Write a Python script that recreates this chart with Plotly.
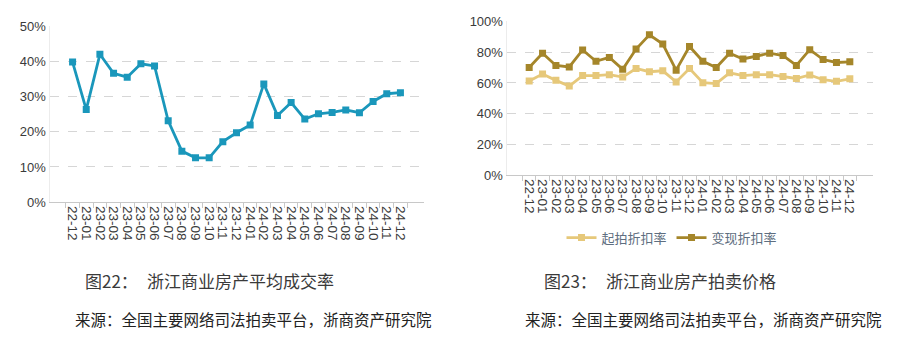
import plotly.graph_objects as go

months = ["22-12", "23-01", "23-02", "23-03", "23-04", "23-05", "23-06", "23-07", "23-08",
          "23-09", "23-10", "23-11", "23-12", "24-01", "24-02", "24-03", "24-04", "24-05",
          "24-06", "24-07", "24-08", "24-09", "24-10", "24-11", "24-12"]

deal_rate = [39.8, 26.3, 42.0, 36.6, 35.5, 39.3, 38.7, 23.1, 14.5, 12.6, 12.6, 17.2, 19.7,
             21.9, 33.6, 24.6, 28.3, 23.6, 25.1, 25.5, 26.2, 25.4, 28.6, 30.8, 31.1]

start_discount = [61.3, 65.8, 61.7, 58.0, 64.8, 64.8, 65.4, 63.8, 69.4, 67.3, 67.9, 60.7, 69.4,
                  60.2, 59.6, 66.6, 64.8, 65.4, 65.4, 64.2, 62.9, 65.2, 62.1, 61.1, 62.7]

realized_discount = [70.0, 79.3, 71.4, 70.4, 81.4, 74.1, 76.6, 68.9, 82.0, 91.3, 85.3, 68.3, 83.7,
                     74.1, 70.0, 79.3, 75.6, 77.2, 79.3, 77.8, 71.4, 81.6, 75.2, 73.3, 73.7]

left_ticks = [0, 10, 20, 30, 40, 50]
left_labels = ["0%", "10%", "20%", "30%", "40%", "50%"]
right_ticks = [0, 20, 40, 60, 80, 100]
right_labels = ["0%", "20%", "40%", "60%", "80%", "100%"]

W, H = 900, 347
BLUE = "#1a97bb"
DARK = "#a5862a"
LIGHT = "#e6c87a"
XFONT = dict(family="Liberation Sans, Arial, sans-serif", size=13.5, color="#3a3a3a")
YFONT = dict(family="Liberation Sans, Arial, sans-serif", size=13, color="#3a3a3a")

fig = go.Figure()

fig.add_trace(go.Scatter(x=months, y=deal_rate, mode="lines+markers", xaxis="x", yaxis="y",
                         line=dict(color=BLUE, width=2.8),
                         marker=dict(symbol="square", size=7, color=BLUE),
                         showlegend=False))

fig.add_trace(go.Scatter(x=months, y=start_discount, mode="lines+markers", xaxis="x2", yaxis="y2",
                         name="起拍折扣率",
                         line=dict(color=LIGHT, width=2.8),
                         marker=dict(symbol="square", size=7, color=LIGHT)))
fig.add_trace(go.Scatter(x=months, y=realized_discount, mode="lines+markers", xaxis="x2", yaxis="y2",
                         name="变现折扣率",
                         line=dict(color=DARK, width=2.8),
                         marker=dict(symbol="square", size=7, color=DARK)))

def px_x(p):
    return p / W

def px_y(p):
    return 1 - p / H

common_x = dict(type="category", showgrid=False, showline=True, linecolor="#c8c8c8", linewidth=1,
                ticks="outside", tickson="boundaries", ticklen=5, tickcolor="#c8c8c8",
                tickmode="array", tickvals=months, ticktext=months,
                tickangle=90, tickfont=XFONT, fixedrange=True)
common_y = dict(showgrid=True, gridcolor="#d6d6d6", griddash="dash", gridwidth=1,
                showline=True, linecolor="#ececec", linewidth=1, ticks="",
                tickmode="array", tickfont=YFONT, zeroline=False, fixedrange=True)

fig.update_layout(
    width=W, height=H,
    margin=dict(l=0, r=0, t=0, b=0),
    paper_bgcolor="white", plot_bgcolor="white",
    xaxis=dict(domain=[px_x(49.5), px_x(423.5)], anchor="y", **common_x),
    yaxis=dict(domain=[px_y(204), px_y(20)], anchor="x", range=[0, 50],
               tickvals=left_ticks, ticktext=left_labels, **common_y),
    xaxis2=dict(domain=[px_x(506.5), px_x(872.5)], anchor="y2", **common_x),
    yaxis2=dict(domain=[px_y(176), px_y(15)], anchor="x2", range=[0, 100],
                tickvals=right_ticks, ticktext=right_labels, **common_y),
    legend=dict(orientation="h", x=px_x(672), y=px_y(241), xanchor="center", yanchor="middle",
                font=dict(family="Noto Sans CJK SC", size=13, color="#5e6e80"),
                itemwidth=30, bgcolor="rgba(0,0,0,0)", tracegroupgap=0),
    showlegend=True,
)

CAP = dict(family="Noto Sans CJK SC", size=17, color="#3a3a3a")
SRC = dict(family="Noto Sans CJK SC", size=15.5, color="#222222")

annots = [
    ("图22：", 83, 286, CAP),
    ("浙江商业房产平均成交率", 145, 286, CAP),
    ("来源：全国主要网络司法拍卖平台，浙商资产研究院", 73, 326, SRC),
    ("图23：", 542, 286, CAP),
    ("浙江商业房产拍卖价格", 604, 286, CAP),
    ("来源：全国主要网络司法拍卖平台，浙商资产研究院", 523, 326, SRC),
]
for text, x, y, font in annots:
    fig.add_annotation(text=text, x=px_x(x), y=px_y(y), xref="paper", yref="paper",
                       xanchor="left", yanchor="middle", showarrow=False, font=font)

fig.write_html("out.html")
